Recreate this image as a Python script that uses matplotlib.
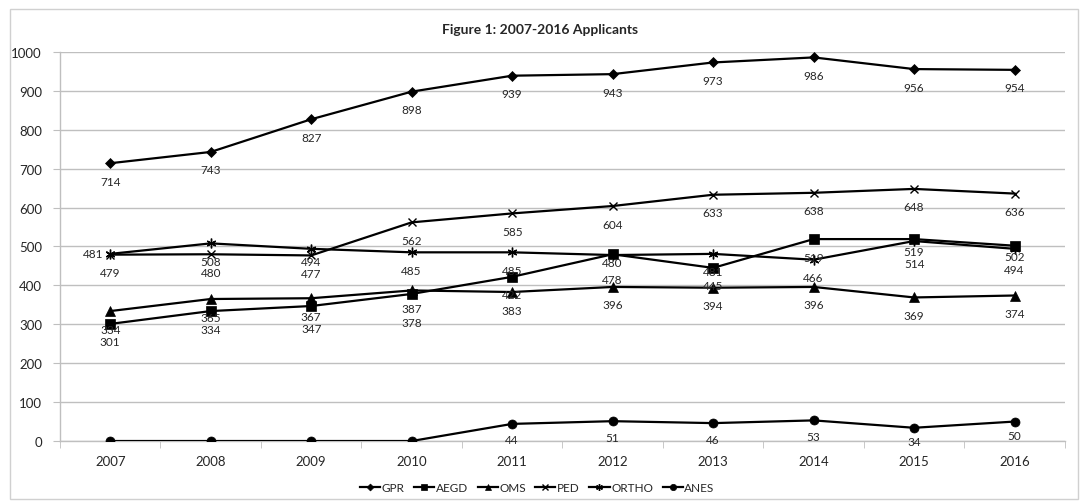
"""
Applicants per program, 2007-2016, line chart with value labels.
"""

import matplotlib
matplotlib.use("Agg")
import matplotlib.pyplot as plt
from matplotlib.patches import Rectangle

plt.rcParams["font.family"] = ["Lato", "DejaVu Sans"]

# ─────────────────────────────────────────────
#  Data
# ─────────────────────────────────────────────

years = ["2007", "2008", "2009", "2010", "2011", "2012", "2013", "2014", "2015", "2016"]

gpr = [714, 743, 827, 898, 939, 943, 973, 986, 956, 954]
aegd = [301, 334, 347, 378, 422, 480, 445, 519, 519, 502]
oms = [334, 365, 367, 387, 383, 396, 394, 396, 369, 374]
ped = [479, 480, 477, 562, 585, 604, 633, 638, 648, 636]
ortho = [481, 508, 494, 485, 485, 478, 481, 466, 514, 494]
anes = [0, 0, 0, 0, 44, 51, 46, 53, 34, 50]

# which ANES years actually have a reported value
anes_labelled = [False, False, False, False, True, True, True, True, True, True]

series = [
    ("GPR", gpr, "D", 5),
    ("AEGD", aegd, "s", 7),
    ("OMS", oms, "^", 7),
    ("PED", ped, "x", 6),
    ("ORTHO", ortho, (6, 2, 0), 7),
    ("ANES", anes, "o", 6.5),
]

# labels that were pulled apart where points crowd together (pixels below point)
LABEL_DROP = 18
label_drop = {
    ("ORTHO", 2): 13,
    ("AEGD", 2): 22,
    ("AEGD", 3): 29,
    ("AEGD", 5): 8,
    ("ORTHO", 5): 24,
    ("AEGD", 8): 12,
    ("ORTHO", 8): 22,
    ("AEGD", 9): 11,
    ("ORTHO", 9): 21,
    ("ANES", 4): 16, ("ANES", 5): 16, ("ANES", 6): 16,
    ("ANES", 7): 16, ("ANES", 8): 14, ("ANES", 9): 14,
}

GRID = "#BFBFBF"
TEXT = "#262626"

# ─────────────────────────────────────────────
#  Figure
# ─────────────────────────────────────────────

fig = plt.figure(figsize=(10.81, 5.02), dpi=100)
fig.patches.append(Rectangle((0.009, 0.004), 0.988, 0.976, transform=fig.transFigure,
                             fill=False, edgecolor="#D0D0D0", linewidth=1.0))

ax = fig.add_axes([0.0555, 0.1195, 0.9295, 0.775])
x = list(range(len(years)))

for name, vals, marker, ms in series:
    ax.plot(x, vals, color="black", linewidth=1.6, marker=marker, markersize=ms,
            markeredgewidth=1.0 if marker in ("x", (6, 2, 0)) else 0.5,
            markerfacecolor="black", markeredgecolor="black", label=name, zorder=3)


def _label(xi, v, dx=0, dy=-LABEL_DROP, ha="center"):
    ax.annotate(str(v), (xi, v), textcoords="offset pixels", xytext=(dx, dy),
                ha=ha, va="center", fontsize=8.5, color=TEXT, zorder=4)


for name, vals, _, _ in series:
    for xi, v in enumerate(vals):
        if name == "ANES" and not anes_labelled[xi]:
            continue
        if name == "ORTHO" and xi == 0:
            _label(xi, v, dx=-7, dy=0, ha="right")
            continue
        _label(xi, v, dy=-label_drop.get((name, xi), LABEL_DROP))

ax.set_xlim(-0.5, len(years) - 0.5)
ax.set_ylim(0, 1000)
ax.set_yticks(range(0, 1001, 100))
ax.set_xticks(x)
ax.set_xticklabels(years)
ax.set_xticks([i - 0.5 for i in range(len(years) + 1)], minor=True)
ax.grid(axis="y", color=GRID, linewidth=1.0, zorder=0)
ax.set_axisbelow(True)

for side in ("top", "right"):
    ax.spines[side].set_visible(False)
for side in ("left", "bottom"):
    ax.spines[side].set_color(GRID)
    ax.spines[side].set_linewidth(1.0)

ax.tick_params(axis="x", which="major", length=0, pad=10, labelsize=9.5, labelcolor=TEXT)
ax.tick_params(axis="x", which="minor", length=5, color=GRID, direction="out")
ax.tick_params(axis="y", length=5, color=GRID, pad=8, labelsize=9.5, labelcolor=TEXT)

fig.text(0.5, 0.94, "Figure 1: 2007-2016 Applicants", ha="center", va="center",
         fontsize=10, fontweight="bold", color=TEXT)

fig.legend(loc="center", bbox_to_anchor=(0.497, 0.027), ncol=6, frameon=False,
           fontsize=8.5, handlelength=1.7, handletextpad=0.15, columnspacing=0.8,
           labelcolor=TEXT, markerscale=0.7)

fig.savefig("out.png", dpi=100)
plt.close(fig)
